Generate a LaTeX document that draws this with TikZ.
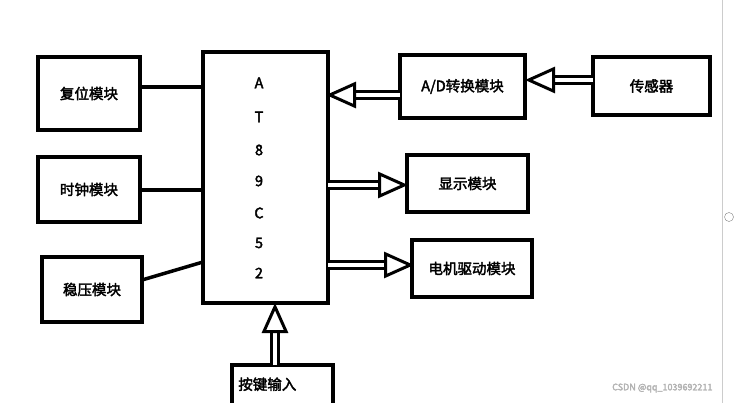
\documentclass[tikz,border=0pt]{standalone}
\usepackage{fontspec}
\setmainfont{Noto Sans CJK SC}[FakeBold=2.5]
\usetikzlibrary{arrows.meta}
\begin{document}
\begin{tikzpicture}[x=1pt,y=-1pt,
  box/.style={draw,line width=4pt,font=\fontsize{14.5}{16}\selectfont},
  dbl/.style={double,double distance=3.5pt,line width=3pt,-{Triangle[open,length=30pt,width=26pt,line width=3pt]}},
  sgl/.style={line width=3.5pt}]
\useasboundingbox[fill=white] (0,0) rectangle (741,403);
\path[box] (38,57) rectangle (140,130) node[midway] (fw) {复位模块};
\path[box] (38,157) rectangle (140,222) node[midway] (sz) {时钟模块};
\path[box] (42,257) rectangle (142,322) node[midway] (wy) {稳压模块};
\path[box] (203,52) rectangle (328,303) coordinate[midway] (mcu);
\path[box] (400,55) rectangle (525,118) node[midway] (ad) {A/D转换模块};
\path[box] (593,57) rectangle (710,115) node[midway] (cg) {传感器};
\path[box] (407,155) rectangle (528,212) node[midway] (xs) {显示模块};
\path[box] (412,240) rectangle (532,297) node[midway] (dj) {电机驱动模块};
\path[box] (232,365) rectangle (333,420) node[pos=0.35] (aj) {按键输入};
\foreach \c/\y in {A/83,T/117,8/150,9/181,C/213,5/243,2/273}
  \node[font=\fontsize{14.5}{16}\selectfont] (l\y) at (259,\y) {\c};
\draw[sgl] (140,87) -- (203,87);
\draw[sgl] (140,190) -- (203,190);
\draw[sgl] (142,280) -- (203,262);
\draw[dbl] (593,80) -- (525,80);
\draw[dbl] (400,95) -- (326,95);
\draw[dbl] (328,185) -- (408,185);
\draw[dbl] (328,265) -- (414,265);
\draw[dbl] (275,365) -- (275,303);
\draw[gray!40,line width=1pt] (722,0) -- (722,403);
\draw[gray,fill=white] (729,217) circle (4.5);
\node[gray!60,font=\fontsize{9}{10}\selectfont,anchor=east] (wm) at (716,388) {CSDN @qq\_1039692211};
\end{tikzpicture}
\end{document}
